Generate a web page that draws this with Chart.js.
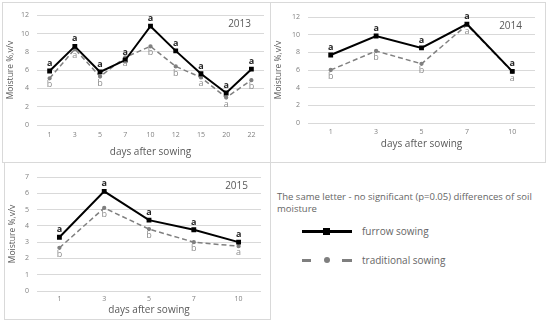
<!DOCTYPE html>
<html>
<head>
<meta charset="utf-8">
<script src="https://cdn.jsdelivr.net/npm/chart.js@4"></script>
<style>
  body { margin:0; background:#fff; font-family:"Open Sans", sans-serif; }
  .box { position:absolute; border:1px solid #d9d9d9; box-sizing:border-box; }
  .box canvas { position:absolute; left:0; top:0; }
  .note { position:absolute; color:#666; font-size:9.5px; line-height:12px; }
</style>
</head>
<body>
<div class="box" style="left:2px;top:2px;width:269px;height:161px"><canvas id="c2013"></canvas></div>
<div class="box" style="left:270px;top:2px;width:276px;height:161px"><canvas id="c2014"></canvas></div>
<div class="box" style="left:4px;top:162px;width:267px;height:158px"><canvas id="c2015"></canvas></div>

<div class="note" style="left:277px;top:191px;width:270px">The same letter - no significant (p=0.05) differences of soil moisture</div>
<div style="position:absolute;left:302px;top:230px;width:50px;height:3px;background:#000"></div>
<div style="position:absolute;left:323px;top:228px;width:7px;height:7px;background:#000"></div>
<div class="note" style="left:362px;top:225px;font-size:10px">furrow sowing</div>
<div style="position:absolute;left:302px;top:259px;width:9px;height:3px;background:#7f7f7f"></div>
<div style="position:absolute;left:324px;top:257px;width:6px;height:6px;background:#7f7f7f;border-radius:50%"></div>
<div style="position:absolute;left:342px;top:259px;width:10px;height:3px;background:#7f7f7f"></div>
<div class="note" style="left:362px;top:254px;font-size:10px">traditional sowing</div>

<script>
// dane
const days2013 = ["1","3","5","7","10","12","15","20","22"];
const furrow2013 = [5.9, 8.6, 5.8, 7.1, 10.8, 8.1, 5.6, 3.5, 6.1];
const trad2013 = [5.1, 8.3, 5.3, 7.4, 8.6, 6.4, 5.2, 3.0, 4.9];
const letF2013 = ["a","a","a","a","a","a","a","a","a"];
const letT2013 = ["b","a","b","a","b","b","a","a","b"];

const days2014 = ["1","3","5","7","10"];
const furrow2014 = [7.7, 9.85, 8.5, 11.2, 5.85];
const trad2014 = [6.0, 8.15, 6.7, 11.1, 5.8];
const letF2014 = ["a","a","a","a","a"];
const letT2014 = ["b","b","b","a","a"];

const days2015 = ["1","3","5","7","10"];
const furrow2015 = [3.3, 6.12, 4.35, 3.76, 3.0];
const trad2015 = [2.65, 5.1, 3.8, 3.0, 2.75];
const letF2015 = ["a","a","a","a","a"];
const letT2015 = ["b","b","b","b","a"];

const FONT = "'Open Sans', sans-serif";

// litery istotnosci + rok
const letters = {
  id: "letters",
  afterDatasetsDraw(chart) {
    const c = chart.ctx;
    const lf = chart.config._config.letF, lt = chart.config._config.letT;
    c.save();
    c.textAlign = "center";
    [0,1].forEach(function(d){
      const meta = chart.getDatasetMeta(d);
      const lab = d == 0 ? lf : lt;
      meta.data.forEach(function(p, i){
        if (d == 0) {
          c.fillStyle = "#262626";
          c.font = "bold 9px " + FONT;
          c.textBaseline = "bottom";
          c.fillText(lab[i], p.x, p.y - 3);
        } else {
          c.fillStyle = "#8c8c8c";
          c.font = "9px " + FONT;
          c.textBaseline = "top";
          c.fillText(lab[i], p.x, p.y + 2);
        }
      });
    });
    const a = chart.chartArea;
    c.fillStyle = "#595959";
    c.font = "10px " + FONT;
    c.textAlign = "right";
    c.textBaseline = "middle";
    c.fillText(chart.config._config.year, a.right - 13, a.top + 9);
    c.restore();
  }
};

function makeChart(id, w, h, days, furrow, trad, letF, letT, year, ymax, step, pad, yw, xh, tickPad, titlePad) {
  const el = document.getElementById(id);
  el.width = w; el.height = h;
  return new Chart(el.getContext("2d"), {
    type: "line",
    letF: letF,
    letT: letT,
    year: year,
    data: {
      labels: days,
      datasets: [{
        label: "furrow sowing",
        data: furrow,
        borderColor: "#000",
        backgroundColor: "#000",
        borderWidth: 2,
        pointStyle: "rect",
        pointRadius: 2,
        tension: 0
      },{
        label: "traditional sowing",
        data: trad,
        borderColor: "#808080",
        backgroundColor: "#808080",
        borderWidth: 1.5,
        borderDash: [5,3],
        pointStyle: "circle",
        pointRadius: 1.4,
        tension: 0
      }]
    },
    options: {
      responsive: false,
      animation: false,
      layout: { padding: pad },
      plugins: {
        legend: { display: false },
        tooltip: { enabled: false }
      },
      scales: {
        x: {
          offset: true,
          grid: { display: false, drawTicks: false },
          border: { display: false },
          ticks: { color: "#808080", font: { size: 7, family: FONT }, padding: tickPad, maxRotation: 0 },
          title: { display: true, text: "days after sowing", color: "#595959",
                   font: { size: 10, family: FONT }, padding: { top: 0, bottom: titlePad } },
          afterFit: function(s){ s.height = xh; }
        },
        y: {
          min: 0, max: ymax,
          grid: { color: "#d9d9d9", drawTicks: false },
          border: { display: false },
          ticks: { stepSize: step, color: "#808080", font: { size: 7, family: FONT }, padding: 8 },
          title: { display: true, text: "Moisture %,v/v", color: "#595959",
                   font: { size: 8.5, family: FONT }, padding: { top: 2, bottom: 0 } },
          afterFit: function(s){ s.width = yw; }
        }
      }
    },
    plugins: [letters]
  });
}

makeChart("c2013", 267, 159, days2013, furrow2013, trad2013, letF2013, letT2013, "2013", 12, 2,
  { top: 12, right: 6, bottom: 0, left: 0 }, 34, 37, 6, 4);
makeChart("c2014", 274, 159, days2014, furrow2014, trad2014, letF2014, letT2014, "2014", 12, 2,
  { top: 14, right: 10, bottom: 0, left: 0 }, 37, 39, 5, 12);
makeChart("c2015", 265, 156, days2015, furrow2015, trad2015, letF2015, letT2015, "2015", 7, 1,
  { top: 14, right: 9, bottom: 0, left: 0 }, 32, 28, 4, 3);
</script>
</body>
</html>
